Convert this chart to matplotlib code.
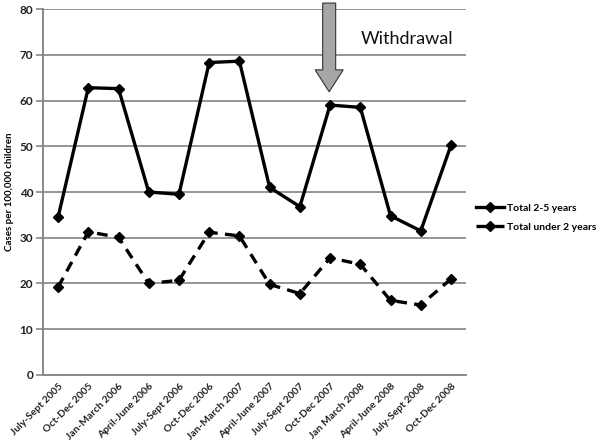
import matplotlib
matplotlib.use("Agg")
import matplotlib.pyplot as plt
from matplotlib.patches import FancyArrow

plt.rcParams['font.family'] = ['Lato', 'DejaVu Sans']

categories = ["July-Sept 2005", "Oct-Dec 2005", "Jan-March 2006", "April-June 2006",
              "July-Sept 2006", "Oct-Dec 2006", "Jan-March 2007", "April-June 2007",
              "July-Sept 2007", "Oct-Dec 2007", "Jan March 2008", "April-June 2008",
              "July-Sept 2008", "Oct-Dec 2008"]
total_2_5 = [34.5, 62.8, 62.6, 40.0, 39.5, 68.3, 68.6, 41.0, 36.8, 59.0, 58.5, 34.8, 31.5, 50.2]
total_under_2 = [19.2, 31.3, 30.1, 20.0, 20.7, 31.2, 30.4, 19.8, 17.8, 25.6, 24.2, 16.3, 15.3, 21.0]
yticks = [0, 10, 20, 30, 40, 50, 60, 70, 80]

fig = plt.figure(figsize=(6.01, 4.42), dpi=100)
ax = fig.add_axes([0.0715, 0.1516, 0.704, 0.828])
x = list(range(len(categories)))

ax.plot(x, total_2_5, color='black', lw=2.4, marker='D', ms=5, label='Total 2-5 years')
ax.plot(x, total_under_2, color='black', lw=2.4, ls=(0, (3.2, 2.2)), marker='D', ms=5,
        label='Total under 2 years')

ax.set_xlim(-0.5, len(categories) - 0.5)
ax.set_ylim(0, 80)
ax.set_yticks(yticks)
ax.set_yticklabels([str(v) for v in yticks], fontsize=8.5, fontweight='bold', color='#222222')
ax.set_xticks(x)
ax.set_xticklabels(categories, rotation=45, ha='right', rotation_mode='anchor',
                   fontsize=7.4, fontweight='bold', color='#222222')
ax.tick_params(axis='x', length=0, pad=5)
ax.tick_params(axis='y', length=5, color='#888888', width=1.2, pad=2)
ax.yaxis.grid(True, color='#8c8c8c', lw=1.3)
ax.set_axisbelow(True)
for s in ['top', 'right']:
    ax.spines[s].set_visible(False)
for s in ['left', 'bottom']:
    ax.spines[s].set_color('#888888')
    ax.spines[s].set_linewidth(1.4)

ax.set_ylabel('Cases per 100,000 children', fontsize=7, fontweight='bold', labelpad=4)

# Withdrawal arrow
arr = FancyArrow(9 - 0.03, 81.3, 0, -19.4, width=0.43,
                 head_width=0.93, head_length=4.8, length_includes_head=True,
                 facecolor='#a6a6a6', edgecolor='#333333', lw=0.8, zorder=5,
                 clip_on=False)
ax.add_patch(arr)
ax.text(10.0, 73.5, 'Withdrawal', fontsize=13, color='#111111', ha='left', va='center')

leg = ax.legend(loc='center left', bbox_to_anchor=(1.0, 0.43), frameon=False,
                fontsize=7.5, handlelength=2.6, borderaxespad=0.6, labelspacing=0.9,
                handletextpad=0.3)
for t in leg.get_texts():
    t.set_fontweight('bold')

fig.savefig('out.png', dpi=100)
